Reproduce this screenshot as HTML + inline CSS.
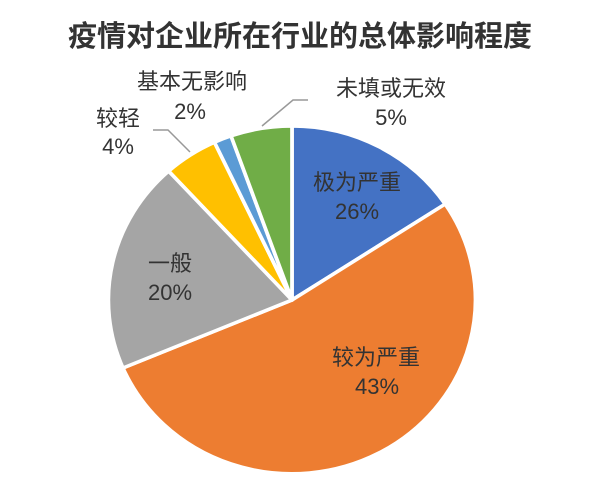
<!DOCTYPE html>
<html><head><meta charset="utf-8"><style>
body{margin:0;background:#fff;}
svg{display:block;}
text{font-family:"Liberation Sans","Noto Sans CJK SC",sans-serif;fill:#333;}
</style></head><body>
<svg width="600" height="487" viewBox="0 0 600 487">
<rect width="600" height="487" fill="#fff"/>
<text x="300" y="46" text-anchor="middle" font-size="29" font-weight="bold" fill="#404040">疫情对企业所在行业的总体影响程度</text>
<g transform="translate(292,300) scale(1.055,1)" stroke="#fff" stroke-width="3.5" stroke-linejoin="round">
<path d="M0,0 L0,-174 A174,174 0 0 1 145.2,-95.9 Z" fill="#4472C4"/>
<path d="M0,0 L145.2,-95.9 A174,174 0 1 1 -160.2,68 Z" fill="#ED7D31"/>
<path d="M0,0 L-160.2,68 A174,174 0 0 1 -116.9,-128.9 Z" fill="#A5A5A5"/>
<path d="M0,0 L-116.9,-128.9 A174,174 0 0 1 -73.5,-157.7 Z" fill="#FFC000"/>
<path d="M0,0 L-73.5,-157.7 A174,174 0 0 1 -57.8,-164.1 Z" fill="#5B9BD5"/>
<path d="M0,0 L-57.8,-164.1 A174,174 0 0 1 0,-174 Z" fill="#70AD47"/>
</g>
<g fill="none" stroke="#999" stroke-width="1.5">
<polyline points="153,130 168,130 190,152"/>
<polyline points="262,126 293,100 308,100"/>
</g>
<g font-size="22" text-anchor="middle">
<text x="357" y="190">极为严重</text>
<text x="357" y="219">26%</text>
<text x="376" y="365">较为严重</text>
<text x="377" y="394">43%</text>
<text x="170" y="271">一般</text>
<text x="170" y="300">20%</text>
<text x="118" y="126">较轻</text>
<text x="118" y="154">4%</text>
<text x="192" y="89">基本无影响</text>
<text x="190" y="119">2%</text>
<text x="391" y="96">未填或无效</text>
<text x="391" y="125">5%</text>
</g>
</svg>
</body></html>
